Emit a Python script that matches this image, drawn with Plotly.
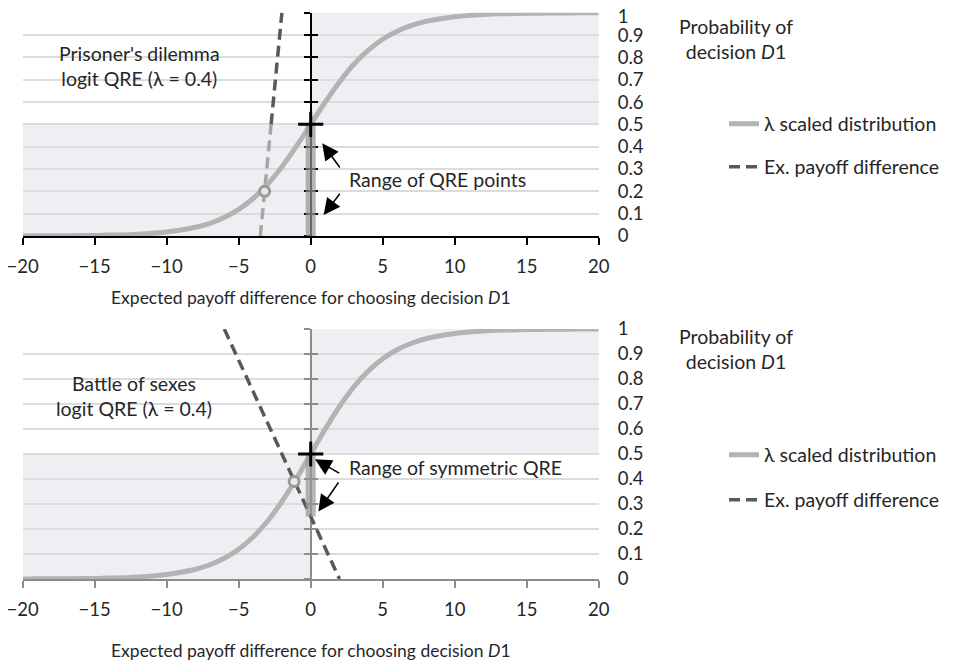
import plotly.graph_objects as go

# ---------------- data ----------------
x_tick_vals = [-20, -15, -10, -5, 0, 5, 10, 15, 20]
x_tick_text = ["\u221220", "\u221215", "\u221210", "\u22125", "0", "5", "10", "15", "20"]
p_tick_vals = [0, 0.1, 0.2, 0.3, 0.4, 0.5, 0.6, 0.7, 0.8, 0.9, 1]
p_tick_text = ["0", "0.1", "0.2", "0.3", "0.4", "0.5", "0.6", "0.7", "0.8", "0.9", "1"]

# lambda scaled distribution (same curve in both panels)
sigmoid_x = list(range(-20, 21))
sigmoid_p = [0.000, 0.001, 0.001, 0.001, 0.002, 0.002, 0.004, 0.005, 0.008, 0.012,
             0.018, 0.027, 0.039, 0.057, 0.083, 0.119, 0.168, 0.231, 0.310, 0.401,
             0.500, 0.599, 0.690, 0.769, 0.832, 0.881, 0.917, 0.943, 0.961, 0.973,
             0.982, 0.988, 0.992, 0.995, 0.996, 0.998, 0.998, 0.999, 0.999, 1.000, 1.000]

# Prisoner's dilemma
pd_payoff_x = [-3.5, -2.75, -2.0]
pd_payoff_p = [0.0, 0.5, 1.0]
pd_qre_x = [-3.2]
pd_qre_p = [0.2]
pd_range_x = [0, 0]
pd_range_p = [0.0, 0.5]

# Battle of sexes
bos_payoff_x = [-6.0, 2.0]
bos_payoff_p = [1.0, 0.0]
bos_qre_x = [-1.15]
bos_qre_p = [0.39]
bos_range_x = [0, 0]
bos_range_p = [0.25, 0.5]

sym_x = [0]
sym_p = [0.5]

X_MIN, X_MAX = -20, 20
P_HALF = 0.5

# ---------------- styling ----------------
OFF = 8                       # page body margin
W, H = 961 - OFF, 664 - OFF   # figure size
FONT = "Lato"
TXT = "#262626"
FS_TICK = 18.5
FS_TEXT = 19.5
FS_TITLE = 17.5
CURVE = "#b3b3b3"
DASH_DARK = "#595959"
DASH_LIGHT = "#a6a6a6"
SHADE = "#eeeff2"
GRID = "#dcdcdc"


def px(xs):   # screenshot x -> paper fraction
    return (xs - OFF) / W


def py(ys):   # screenshot y -> paper fraction
    return 1 - (ys - OFF) / H


xdom = [px(22.7), px(598.7)]
zero_pos = px(310.7)
top_dom = [py(236), py(12.7)]
bot_dom = [py(579), py(329)]

fig = go.Figure()

# ---- top panel traces ----
fig.add_trace(go.Scatter(x=pd_payoff_x[:2], y=pd_payoff_p[:2], mode="lines",
                         line=dict(color=DASH_LIGHT, width=3.5, dash="11px,6px"),
                         showlegend=False, xaxis="x", yaxis="y", hoverinfo="skip"))
fig.add_trace(go.Scatter(x=pd_payoff_x[1:], y=pd_payoff_p[1:], mode="lines",
                         line=dict(color=DASH_DARK, width=3.5, dash="11px,6px"),
                         name="Ex. payoff difference", legend="legend2",
                         xaxis="x", yaxis="y", hoverinfo="skip"))
fig.add_trace(go.Scatter(x=sigmoid_x, y=sigmoid_p, mode="lines", line_shape="spline",
                         line=dict(color=CURVE, width=5),
                         name="\u03bb scaled distribution", legend="legend",
                         xaxis="x", yaxis="y", hoverinfo="skip"))
fig.add_trace(go.Scatter(x=pd_qre_x, y=pd_qre_p, mode="markers",
                         marker=dict(symbol="circle", size=10, color="#e8e8e8",
                                     line=dict(color="#9a9a9a", width=3)),
                         showlegend=False, xaxis="x", yaxis="y7", hoverinfo="skip"))
fig.add_trace(go.Scatter(x=pd_range_x, y=pd_range_p, mode="lines",
                         line=dict(color="rgba(150,150,150,0.7)", width=10),
                         showlegend=False, xaxis="x", yaxis="y3", hoverinfo="skip"))
fig.add_trace(go.Scatter(x=sym_x, y=sym_p, mode="markers",
                         marker=dict(symbol="cross-thin", size=18,
                                     line=dict(color="black", width=3)),
                         showlegend=False, xaxis="x", yaxis="y4", hoverinfo="skip"))

# ---- bottom panel traces ----
fig.add_trace(go.Scatter(x=sigmoid_x, y=sigmoid_p, mode="lines", line_shape="spline",
                         line=dict(color=CURVE, width=5),
                         name="\u03bb scaled distribution", legend="legend3",
                         xaxis="x2", yaxis="y2", hoverinfo="skip"))
fig.add_trace(go.Scatter(x=bos_payoff_x, y=bos_payoff_p, mode="lines",
                         line=dict(color=DASH_DARK, width=3.5, dash="11px,6px"),
                         name="Ex. payoff difference", legend="legend4",
                         xaxis="x2", yaxis="y2", hoverinfo="skip"))
fig.add_trace(go.Scatter(x=bos_qre_x, y=bos_qre_p, mode="markers",
                         marker=dict(symbol="circle", size=10, color="#e8e8e8",
                                     line=dict(color="#9a9a9a", width=3)),
                         showlegend=False, xaxis="x2", yaxis="y2", hoverinfo="skip"))
fig.add_trace(go.Scatter(x=bos_range_x, y=bos_range_p, mode="lines",
                         line=dict(color="rgba(150,150,150,0.7)", width=10),
                         showlegend=False, xaxis="x2", yaxis="y5", hoverinfo="skip"))
fig.add_trace(go.Scatter(x=sym_x, y=sym_p, mode="markers",
                         marker=dict(symbol="cross-thin", size=18,
                                     line=dict(color="black", width=3)),
                         showlegend=False, xaxis="x2", yaxis="y6", hoverinfo="skip"))

# ---- shading ----
shapes = []
for xr, yr in (("x", "y"), ("x2", "y2")):
    shapes.append(dict(type="rect", xref=xr, yref=yr, x0=X_MIN, x1=0, y0=0, y1=P_HALF,
                       fillcolor=SHADE, line_width=0, layer="below"))
    shapes.append(dict(type="rect", xref=xr, yref=yr, x0=0, x1=X_MAX, y0=P_HALF, y1=1,
                       fillcolor=SHADE, line_width=0, layer="below"))


def xaxis_cfg(anchor, color):
    return dict(domain=xdom, anchor=anchor, range=[X_MIN, X_MAX], tickvals=x_tick_vals,
                ticktext=x_tick_text, ticks="outside", ticklen=7, tickwidth=1.5,
                tickcolor=color, showline=True, linecolor=color, linewidth=2,
                showgrid=False, zeroline=False, ticklabelstandoff=6, automargin=False,
                ticklabeloverflow="allow",
                tickfont=dict(size=FS_TICK, color=TXT, family=FONT), fixedrange=True)


def yaxis_main(dom, anchor, texts):
    return dict(domain=dom, anchor=anchor, side="right", range=[0, 1],
                tickvals=p_tick_vals, ticktext=texts, ticks="",
                showgrid=True, gridcolor=GRID, gridwidth=1.5, showline=False,
                zeroline=False, ticklabelstandoff=18,
                automargin=False, ticklabeloverflow="allow",
                tickfont=dict(size=FS_TICK, color=TXT, family=FONT), fixedrange=True)


def yaxis_cross(dom, over, direction, color, line):
    return dict(domain=dom, overlaying=over, anchor="free", position=zero_pos,
                range=[0, 1], tickvals=p_tick_vals, ticks=direction, ticklen=6,
                tickwidth=1.5, tickcolor=color, showticklabels=False, showgrid=False,
                zeroline=False, showline=line, linecolor=color, linewidth=2,
                automargin=False, layer="below traces", fixedrange=True)


def legend_cfg(ypix):
    return dict(x=px(724), xanchor="left", y=py(ypix), yanchor="middle",
                bgcolor="rgba(0,0,0,0)", borderwidth=0,
                font=dict(size=FS_TEXT, color=TXT, family=FONT))


# the top "1" label sits right at the page edge; it gets its own axis nudged down
top_texts = p_tick_text[:-1] + [""]
top_edge_vals = p_tick_vals[-1:]
top_edge_text = p_tick_text[-1:]

annotations = []
axis_title = "Expected payoff difference for choosing decision <i>D</i>1"
for ypix in (297, 650):
    annotations.append(dict(text=axis_title, xref="paper", yref="paper",
                            x=zero_pos, y=py(ypix), xanchor="center", yanchor="middle",
                            showarrow=False, font=dict(size=FS_TITLE, color=TXT, family=FONT)))
for ypix in (39, 349):
    annotations.append(dict(text="Probability of<br>decision <i>D</i>1", xref="paper",
                            yref="paper", x=px(736), y=py(ypix), xanchor="center",
                            yanchor="middle", showarrow=False, align="center",
                            font=dict(size=FS_TEXT, color=TXT, family=FONT)))
annotations.append(dict(text="Prisoner's dilemma<br>logit QRE (\u03bb = 0.4)", xref="x",
                        yref="y", x=-11.9, y=0.76, showarrow=False, align="center",
                        font=dict(size=FS_TEXT, color=TXT, family=FONT)))
annotations.append(dict(text="Battle of sexes<br>logit QRE (\u03bb = 0.4)", xref="x2",
                        yref="y2", x=-12.3, y=0.73, showarrow=False, align="center",
                        font=dict(size=FS_TEXT, color=TXT, family=FONT)))
annotations.append(dict(text="Range of QRE points", xref="x", yref="y", x=2.5, y=0.254,
                        xanchor="left", showarrow=False,
                        font=dict(size=FS_TEXT, color=TXT, family=FONT)))
annotations.append(dict(text="Range of symmetric QRE", xref="x2", yref="y2", x=2.5,
                        y=0.444, xanchor="left", showarrow=False,
                        font=dict(size=FS_TEXT, color=TXT, family=FONT)))
for xr, yr, hx, hy, tx, ty in (("x", "y", 0.8, 0.415, 2.1, 0.30),
                               ("x", "y", 0.9, 0.094, 2.1, 0.196),
                               ("x2", "y2", 0.3, 0.479, 2.08, 0.42),
                               ("x2", "y2", 0.53, 0.27, 2.0, 0.392)):
    annotations.append(dict(text="", xref=xr, yref=yr, x=hx, y=hy, axref=xr, ayref=yr,
                            ax=tx, ay=ty, showarrow=True, arrowhead=2, arrowsize=2.2,
                            arrowwidth=1.5, arrowcolor="black", standoff=0))

fig.update_layout(
    width=W, height=H, margin=dict(l=0, r=0, t=0, b=0, pad=0, autoexpand=False),
    paper_bgcolor="white", plot_bgcolor="white",
    font=dict(family=FONT, size=FS_TICK, color=TXT),
    xaxis=xaxis_cfg("y", "black"),
    xaxis2=xaxis_cfg("y2", "#8c8c8c"),
    yaxis=yaxis_main(top_dom, "x", top_texts),
    yaxis2=yaxis_main(bot_dom, "x2", p_tick_text),
    yaxis3=yaxis_cross(top_dom, "y", "outside", "black", True),
    yaxis4=yaxis_cross(top_dom, "y", "inside", "black", False),
    yaxis5=yaxis_cross(bot_dom, "y2", "outside", "#8c8c8c", True),
    yaxis6=yaxis_cross(bot_dom, "y2", "inside", "#8c8c8c", False),
    yaxis7=dict(domain=top_dom, overlaying="y", anchor="x", side="right", range=[0, 1],
                tickvals=top_edge_vals, ticktext=top_edge_text, ticks="",
                showgrid=False, zeroline=False, showline=False, ticklabelstandoff=18,
                ticklabelshift=4, automargin=False, ticklabeloverflow="allow",
                tickfont=dict(size=FS_TICK, color=TXT, family=FONT), fixedrange=True),
    legend=legend_cfg(124),
    legend2=legend_cfg(167),
    legend3=legend_cfg(455),
    legend4=legend_cfg(500),
    shapes=shapes,
    annotations=annotations,
    hovermode=False,
)

fig.write_html("out.html")
